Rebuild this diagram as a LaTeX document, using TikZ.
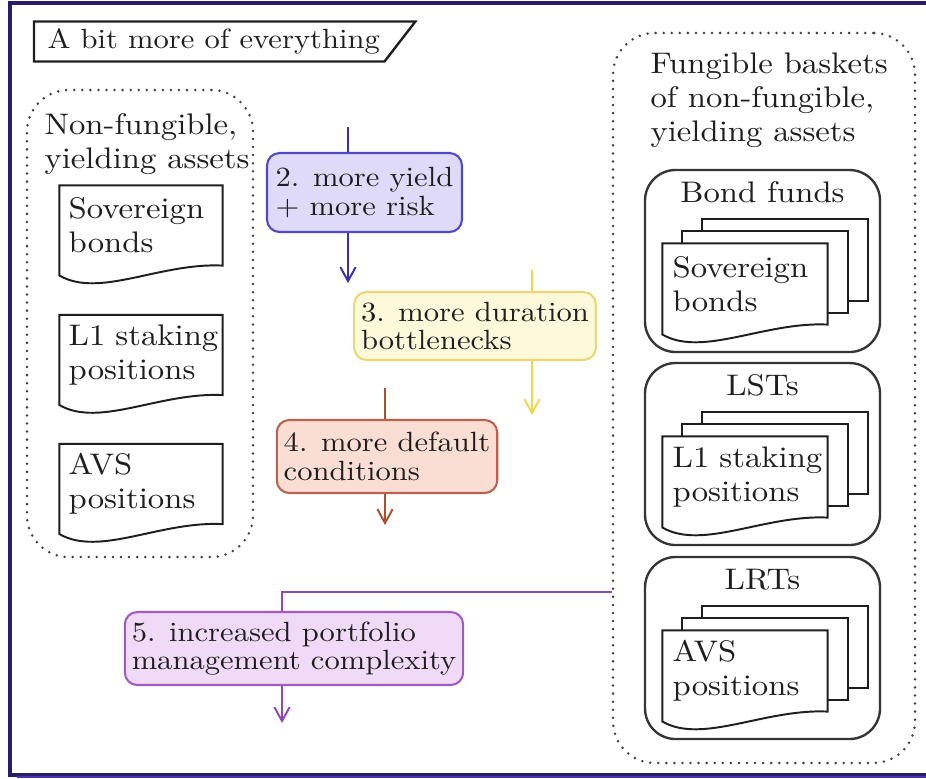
\documentclass[tikz,border=0pt]{standalone}
\usepackage{fontspec}
\setmainfont{lmroman10-regular}[Extension=.otf, FakeStretch=1.1]
\usetikzlibrary{calc,arrows.meta}

\definecolor{ink}{HTML}{1E1E1E}
\definecolor{framec}{HTML}{2B1C6B}
\definecolor{framesh}{HTML}{4B33B5}
\definecolor{ptwofill}{HTML}{DEDAF7}
\definecolor{ptwoline}{HTML}{5148C8}
\definecolor{ptwoarrow}{HTML}{3B2DB0}
\definecolor{pthreefill}{HTML}{FFF9DB}
\definecolor{pthreeline}{HTML}{EBD774}
\definecolor{pthreearrow}{HTML}{F2D64A}
\definecolor{pfourfill}{HTML}{FADDD3}
\definecolor{pfourline}{HTML}{B8634F}
\definecolor{pfourarrow}{HTML}{A9502F}
\definecolor{pfivefill}{HTML}{F1D9F8}
\definecolor{pfiveline}{HTML}{A25BBE}
\definecolor{pfivearrow}{HTML}{9146B6}

% one drawing unit in points
\newcommand\pxu{0.3597pt}
\newcommand\bigtxt{\fontsize{10.7}{12.2}\selectfont}

\pgfdeclarelayer{docs}
\pgfsetlayers{docs,main}

\tikzset{
  txt/.style={text=ink, inner sep=0pt, anchor=north west, align=left, font=\bigtxt},
  lbl/.style={text=ink, inner sep=0pt, anchor=base, font=\bigtxt},
  cont/.style={draw=ink!85, rounded corners=15pt, dash pattern=on 0pt off 2.9pt,
    line cap=round, line width=1pt, inner sep=0pt},
  fundbox/.style={draw=ink!90, line width=0.85pt, rounded corners=11pt, inner sep=0pt,
    minimum width=235*\pxu, minimum height=182*\pxu},
  docnode/.style={text=ink, align=left, text width=52pt, inner xsep=3pt, inner ysep=0pt,
    font=\bigtxt},
  docline/.style={draw=ink, fill=white, line width=0.7pt},
  proc/.style={text=ink, align=left, rounded corners=4.5pt, line width=0.75pt,
    inner xsep=2.5pt, inner ysep=0pt, font=\fontsize{10}{10.4}\selectfont},
  flow/.style={line width=0.7pt},
}

% document outline with a wavy lower edge
\newcommand{\docoutline}[1]{%
  \begin{pgfonlayer}{docs}
  \filldraw[docline] (#1.north west) -- (#1.north east) -- (#1.south east)
    .. controls ($(#1.south east)+(-63,-3)$) and ($(#1.south west)+(40,33)$)
    .. ($(#1.south west)+(0,10)$) -- cycle;
  \end{pgfonlayer}}
% a pile of three documents
\newcommand{\docstack}[1]{%
  \begin{pgfonlayer}{docs}
  \filldraw[docline] ($(#1.north west)+(40,-24)$) rectangle ($(#1.south east)+(40,-24)$);
  \filldraw[docline] ($(#1.north west)+(20,-12)$) rectangle ($(#1.south east)+(20,-12)$);
  \end{pgfonlayer}%
  \docoutline{#1}}

\begin{document}
\begin{tikzpicture}[x=0.3597pt, y=-0.3597pt, font=\fontsize{10}{12}\selectfont,
  >={Straight Barb[length=5pt,width=5.5pt]}]
\useasboundingbox (0,0) rectangle (926,778);

% outer frame
\draw[framec, line width=1.1pt] (926,3) -- (10,3) -- (10,775) -- (926,775);
\draw[framesh, line width=0.6pt] (17,777.3) -- (926,777.3);

% heading
\node[anchor=west, inner xsep=13*\pxu, inner ysep=0pt, minimum height=39*\pxu, text=ink]
  (ttl) at (34,41.5) {A bit more of everything};
\draw[ink, line width=0.85pt] (ttl.north west) -- ($(ttl.north east)+(22,0)$)
  -- ($(ttl.south east)+(-9,0)$) -- (ttl.south west) -- cycle;

% left group
\node[cont, minimum width=226*\pxu, minimum height=467*\pxu] (lc) at (140,323.5) {};
\node[txt] (lct) at (44,113) {Non-fungible,\\yielding assets};

\node[docnode, minimum width=162*\pxu, minimum height=79*\pxu] (ld1) at (141,225.5) {Sovereign\\bonds};
\docoutline{ld1}
\node[docnode, minimum width=162*\pxu, minimum height=79*\pxu] (ld2) at (141,355) {\mbox{L1 staking}\\positions};
\docoutline{ld2}
\node[docnode, minimum width=162*\pxu, minimum height=79*\pxu] (ld3) at (141,484) {AVS\\positions};
\docoutline{ld3}

% right group
\node[cont, minimum width=302*\pxu, minimum height=730*\pxu] (rc) at (764,398) {};
\node[txt] (rct) at (650,52) {Fungible baskets\\of non-fungible,\\yielding assets};

\node[fundbox] (fb1) at (762.5,261) {};
\node[lbl] (fb1l) at (762.5,202) {Bond funds};
\node[docnode, minimum width=164*\pxu, minimum height=80*\pxu] (fd1) at (745,284) {Sovereign\\bonds};
\docstack{fd1}

\node[fundbox] (fb2) at (762.5,454) {};
\node[lbl] (fb2l) at (762.5,395) {LSTs};
\node[docnode, minimum width=164*\pxu, minimum height=80*\pxu] (fd2) at (745,477) {\mbox{L1 staking}\\positions};
\docstack{fd2}

\node[fundbox] (fb3) at (762.5,648) {};
\node[lbl] (fb3l) at (762.5,589) {LRTs};
\node[docnode, minimum width=164*\pxu, minimum height=80*\pxu] (fd3) at (745,671) {AVS\\positions};
\docstack{fd3}

% effects
\node[proc, fill=ptwofill, draw=ptwoline, minimum width=195*\pxu, minimum height=79*\pxu]
  (b2) at (364.5,192.5) {2. more yield\\+ more risk};
\node[proc, fill=pthreefill, draw=pthreeline, minimum width=236*\pxu, minimum height=68*\pxu]
  (b3) at (475,326) {3. more duration\\bottlenecks};
\node[proc, fill=pfourfill, draw=pfourline, minimum width=220*\pxu, minimum height=73*\pxu]
  (b4) at (387,456.5) {4. more default\\conditions};
\node[proc, fill=pfivefill, draw=pfiveline, minimum width=338*\pxu, minimum height=73*\pxu]
  (b5) at (294,648.5) {5. increased portfolio\\management complexity};

% flow lines
\coordinate (i2) at (348,127);
\coordinate (o2) at (348,283);
\draw[flow, ptwoarrow] (i2) -- (i2 |- b2.north);
\draw[flow, ptwoarrow, ->] (o2 |- b2.south) -- (o2);

\coordinate (i3) at (532,270);
\coordinate (o3) at (532,415);
\draw[flow, pthreearrow] (i3) -- (i3 |- b3.north);
\draw[flow, pthreearrow, ->] (o3 |- b3.south) -- (o3);

\coordinate (i4) at (385,388);
\coordinate (o4) at (385,525);
\draw[flow, pfourarrow] (i4) -- (i4 |- b4.north);
\draw[flow, pfourarrow, ->] (o4 |- b4.south) -- (o4);

\coordinate (k5) at (282,592);
\coordinate (o5) at (282,723);
\draw[flow, pfivearrow] (rc.west |- k5) -- (k5) -- (k5 |- b5.north);
\draw[flow, pfivearrow, ->] (o5 |- b5.south) -- (o5);
\end{tikzpicture}
\end{document}
